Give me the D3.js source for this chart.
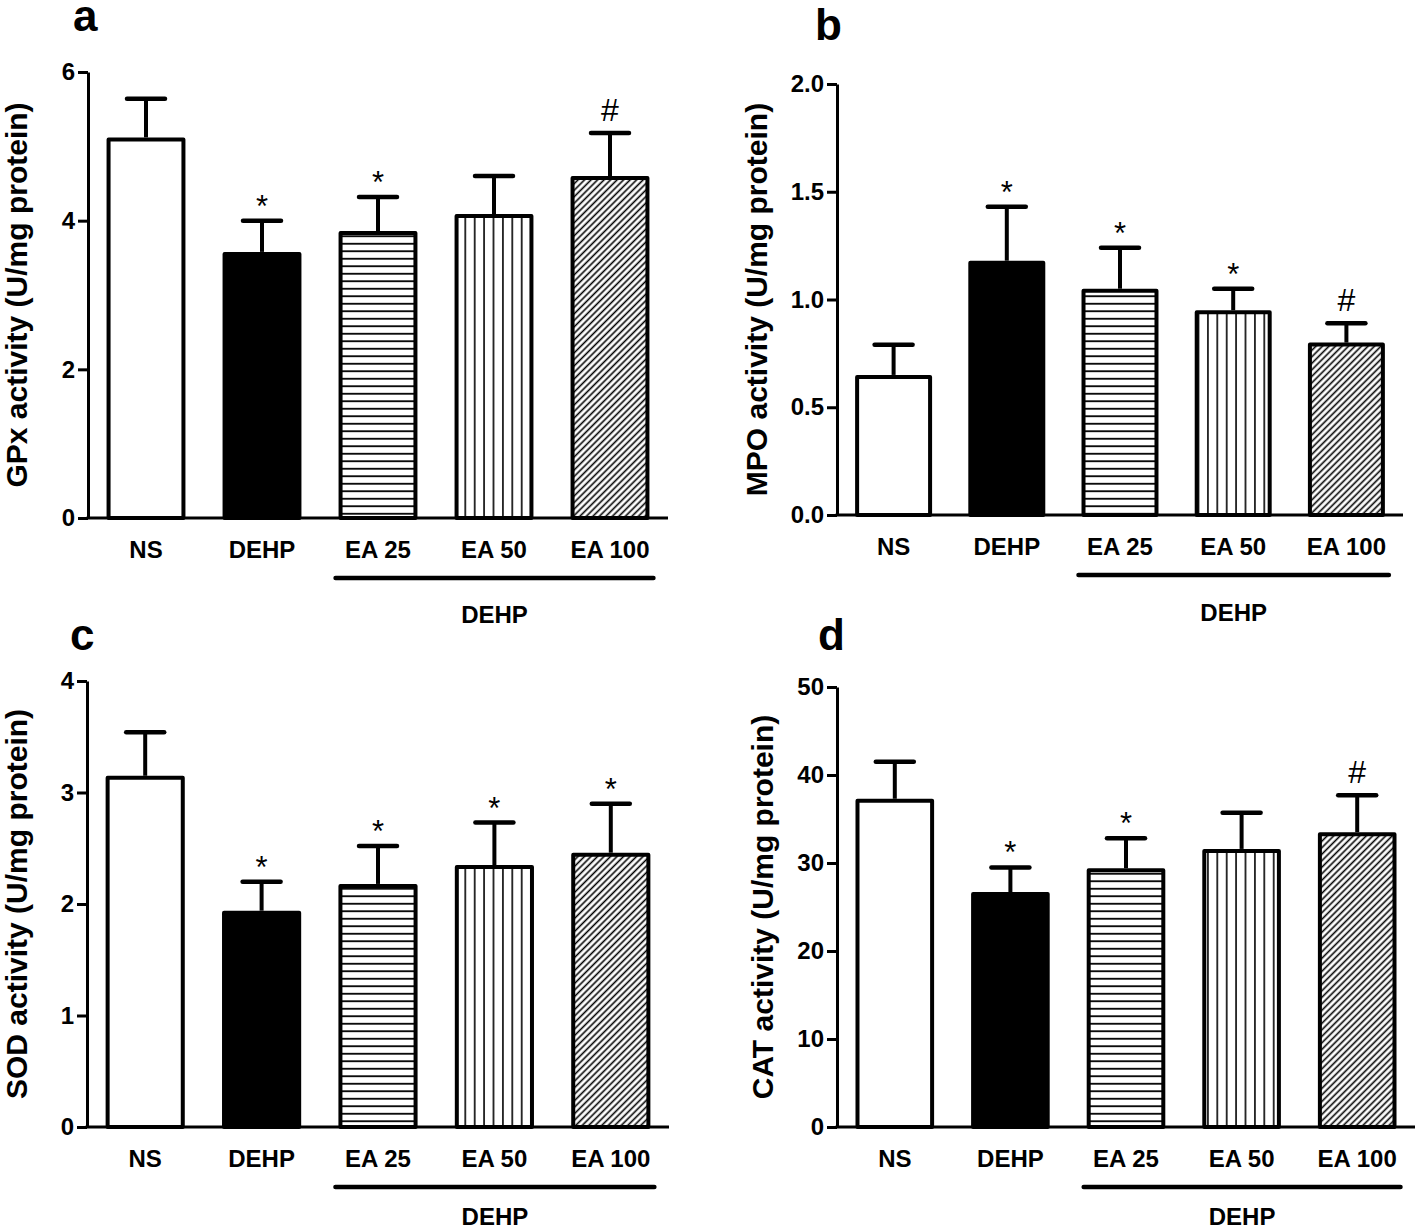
<!DOCTYPE html>
<html><head><meta charset="utf-8">
<script src="https://cdn.jsdelivr.net/npm/d3@7"></script>
<style>
body{margin:0;background:#fff}
svg{display:block}
text{font-family:"Liberation Sans",Arial,Helvetica,sans-serif}
</style></head>
<body><svg id="chart" width="1416" height="1231"></svg>
<script>
// ---- data ----
const categories = ["NS", "DEHP", "EA 25", "EA 50", "EA 100"];
const groupLabel = "DEHP";

const gpxMean = [5.12, 3.58, 3.86, 4.09, 4.60];
const gpxSem  = [0.52, 0.42, 0.46, 0.51, 0.58];
const gpxMarks = ["", "*", "*", "", "#"];
const gpxTicks = [0, 2, 4, 6];

const mpoMean = [0.65, 1.18, 1.05, 0.95, 0.80];
const mpoSem  = [0.14, 0.25, 0.19, 0.10, 0.09];
const mpoMarks = ["", "*", "*", "*", "#"];
const mpoTicks = [0, 0.5, 1.0, 1.5, 2.0];

const sodMean = [3.15, 1.94, 2.18, 2.35, 2.46];
const sodSem  = [0.39, 0.26, 0.34, 0.38, 0.44];
const sodMarks = ["", "*", "*", "*", "*"];
const sodTicks = [0, 1, 2, 3, 4];

const catMean = [37.3, 26.7, 29.4, 31.6, 33.5];
const catSem  = [4.2, 2.8, 3.4, 4.1, 4.2];
const catMarks = ["", "*", "*", "", "#"];
const catTicks = [0, 10, 20, 30, 40, 50];

// ---- layout ----
const panels = [
  {letter:"a", title:"GPx activity (U/mg protein)", mean:gpxMean, sem:gpxSem, marks:gpxMarks, ticks:gpxTicks, fmt:d3.format("d"),
   x0:88, x1:668, yTop:72, y0:518, lx:73, ly:31, tx:16, gy:105},
  {letter:"b", title:"MPO activity (U/mg protein)", mean:mpoMean, sem:mpoSem, marks:mpoMarks, ticks:mpoTicks, fmt:d3.format(".1f"),
   x0:837, x1:1403, yTop:84, y0:515, lx:815, ly:40, tx:756, gy:106},
  {letter:"c", title:"SOD activity (U/mg protein)", mean:sodMean, sem:sodSem, marks:sodMarks, ticks:sodTicks, fmt:d3.format("d"),
   x0:87, x1:669, yTop:681, y0:1127, lx:70, ly:650, tx:16, gy:98},
  {letter:"d", title:"CAT activity (U/mg protein)", mean:catMean, sem:catSem, marks:catMarks, ticks:catTicks, fmt:d3.format("d"),
   x0:837, x1:1415, yTop:687, y0:1127, lx:818, ly:650, tx:762, gy:98}
];

const svg = d3.select("#chart");
svg.append("rect").attr("width",1416).attr("height",1231).attr("fill","#fff");

// ---- patterns ----
const defs = svg.append("defs");
function pattern(id, w, h, transform){
  const p = defs.append("pattern").attr("id", id).attr("patternUnits","userSpaceOnUse")
    .attr("width", w).attr("height", h);
  if (transform) p.attr("patternTransform", transform);
  p.append("rect").attr("width", w).attr("height", h).attr("fill", "#fff");
  return p;
}
pattern("hl", 10, 7.5).append("line").attr("x1",0).attr("x2",10).attr("y1",3.75).attr("y2",3.75)
  .attr("stroke","#000").attr("stroke-width",1.8);
pattern("vl", 9.4, 10).append("line").attr("x1",4.7).attr("x2",4.7).attr("y1",0).attr("y2",10)
  .attr("stroke","#000").attr("stroke-width",1.6);
pattern("dg", 4.6, 10, "rotate(45)").append("line").attr("x1",2.3).attr("x2",2.3).attr("y1",0).attr("y2",10)
  .attr("stroke","#000").attr("stroke-width",1.6);
const fills = ["#fff", "#000", "url(#hl)", "url(#vl)", "url(#dg)"];

panels.forEach(p => {
  const g = svg.append("g");
  const x = d3.scaleBand().domain(categories).range([p.x0, p.x1]).paddingInner(0.32).paddingOuter(0.16);
  const y = d3.scaleLinear().domain([0, d3.max(p.ticks)]).range([p.y0, p.yTop]);
  const bw = x.bandwidth();
  const rows = categories.map((c,i) => ({c, m:p.mean[i], s:p.sem[i], mark:p.marks[i], fill:fills[i]}));

  // error bars
  g.selectAll(".ev").data(rows).join("line")
    .attr("x1", d => x(d.c) + bw/2).attr("x2", d => x(d.c) + bw/2)
    .attr("y1", d => y(d.m)).attr("y2", d => y(d.m + d.s))
    .attr("stroke","#000").attr("stroke-width",4);
  g.selectAll(".ec").data(rows).join("line")
    .attr("x1", d => x(d.c) + bw/2 - 19).attr("x2", d => x(d.c) + bw/2 + 19)
    .attr("y1", d => y(d.m + d.s)).attr("y2", d => y(d.m + d.s))
    .attr("stroke","#000").attr("stroke-width",4.5).attr("stroke-linecap","round");

  // bars
  g.selectAll(".bar").data(rows).join("rect")
    .attr("x", d => x(d.c) + 2).attr("width", bw - 4)
    .attr("y", d => y(d.m) + 2).attr("height", d => p.y0 - y(d.m) - 2)
    .attr("fill", d => d.fill).attr("stroke","#000").attr("stroke-width",4)
    .attr("stroke-linejoin","round");

  // significance marks
  g.selectAll(".mk").data(rows.filter(d => d.mark)).join("text")
    .attr("x", d => x(d.c) + bw/2)
    .attr("y", d => y(d.m + d.s) - (d.mark === "#" ? 12 : 4))
    .attr("text-anchor","middle")
    .attr("font-size", d => d.mark === "#" ? 32 : 31)
    .text(d => d.mark);

  // y axis
  const ax = g.append("g").attr("transform", `translate(${p.x0},0)`)
    .call(d3.axisLeft(y).tickValues(p.ticks).tickFormat(p.fmt).tickSize(10).tickSizeOuter(0).tickPadding(3));
  ax.select(".domain").attr("stroke-width",3);
  ax.selectAll(".tick line").attr("stroke-width",3);
  ax.selectAll(".tick text").attr("font-size",24).attr("font-weight","bold")
    .attr("font-family",'"Liberation Sans",Arial,sans-serif').attr("fill","#000");

  // baseline
  g.append("line").attr("x1", p.x0 - 1.5).attr("x2", p.x1).attr("y1", p.y0).attr("y2", p.y0)
    .attr("stroke","#000").attr("stroke-width",3);

  // category labels
  g.selectAll(".cl").data(categories).join("text")
    .attr("x", d => x(d) + bw/2).attr("y", p.y0 + 40)
    .attr("text-anchor","middle").attr("font-size",24).attr("font-weight","bold")
    .text(d => d);

  // group bracket
  const bx1 = x("EA 25") - 3, bx2 = x("EA 100") + bw + 4;
  g.append("line").attr("x1", bx1).attr("x2", bx2).attr("y1", p.y0 + 60).attr("y2", p.y0 + 60)
    .attr("stroke","#000").attr("stroke-width",4.5).attr("stroke-linecap","round");
  g.append("text").attr("x", (bx1 + bx2)/2).attr("y", p.y0 + p.gy)
    .attr("text-anchor","middle").attr("font-size",24).attr("font-weight","bold").text(groupLabel);

  // y title
  g.append("text").attr("transform", `translate(${p.tx},${(p.y0 + p.yTop)/2}) rotate(-90)`)
    .attr("text-anchor","middle").attr("dominant-baseline","central")
    .attr("font-size",30).attr("font-weight","bold").text(p.title);

  // panel letter
  g.append("text").attr("x", p.lx).attr("y", p.ly).attr("font-size",44).attr("font-weight","bold").text(p.letter);
});
</script></body></html>
